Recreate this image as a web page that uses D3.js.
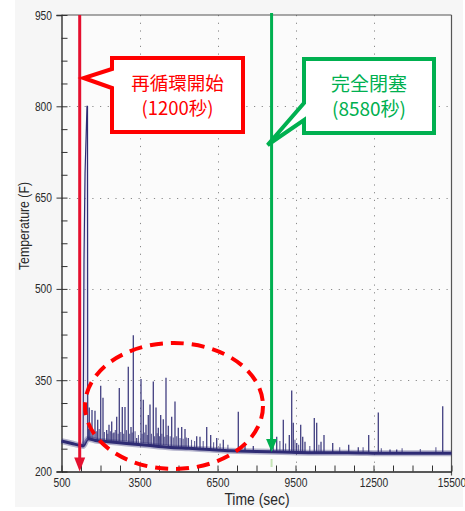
<!DOCTYPE html>
<html>
<head>
<meta charset="utf-8">
<script src="https://cdn.jsdelivr.net/npm/d3@7"></script>
<style>
  html, body { margin: 0; padding: 0; background: #ffffff; }
  svg { display: block; }
</style>
</head>
<body>
<svg id="chart" width="465" height="511"></svg>
<script>
// ---------- data ----------
const xTickValues = [500, 3500, 6500, 9500, 12500, 15500];
const yTickValues = [200, 350, 500, 650, 800, 950];

// smooth baseline of the temperature trace
const baseTimes = [500, 900, 1200, 1330, 1510, 1800, 2300, 3000, 3800, 4600, 5400, 6200, 7000, 8000, 9000, 10000, 11500, 13000, 14500, 15500];
const baseTemps = [250, 246, 243, 242, 254, 251, 249, 246, 243, 240, 238, 236, 234, 233, 232, 231, 231, 230, 230, 230];

// the large excursion right after recirculation start
const bigTimes = [1330, 1365, 1405, 1480, 1500, 1510];
const bigTemps = [242, 548, 690, 800, 800, 254];

// individual temperature spikes (time, peak)
const spikeTimes = [1569, 1673, 1788, 1892, 2008, 2096, 2238, 2327, 2431, 2519, 2623, 2723, 2838, 2942, 3069, 3173, 3262, 3392,
  3558, 3646, 3750, 3838, 3904, 4031, 4135, 4223, 4315, 4415, 4519, 4608, 4738, 4865, 4992, 5123, 5250, 5377, 5700, 5827,
  6085, 6238, 6469, 6723, 7300, 7558, 7877, 8546, 8777, 9031, 9262, 9354, 9415, 9546, 9700, 9777, 9865, 10223, 10315,
  10481, 10596, 10931, 11546, 11915, 12315, 12685, 13135, 13392, 15162];
const spikePeaks = [305, 301, 300, 285, 341, 321, 268, 277, 282, 264, 290, 337, 306, 306, 372, 273, 424, 255,
  352, 318, 277, 293, 310, 348, 305, 272, 293, 286, 354, 275, 290, 315, 272, 273, 270, 255, 258, 257,
  273, 260, 255, 252, 298, 244, 242, 255, 257, 285, 260, 333, 280, 247, 277, 257, 249, 288, 280,
  249, 260, 247, 244, 240, 260, 297, 236, 236, 307];

// small noise bursts near the baseline (time, peak)
const noiseTimes = [1540, 1620, 1720, 1840, 1950, 2150, 2280, 2380, 2480, 2570, 2680, 2780, 2890, 3000, 3120, 3220, 3330, 3460, 3600, 3700, 3800, 3960, 4080, 4180, 4270, 4360, 4470, 4560, 4680, 4800, 4930, 5060, 5180, 5300, 5500, 5620, 5950, 6350, 6600, 6900, 8650, 8900, 9120, 9480, 9620, 10050, 10400, 11200, 12100, 12800, 13600, 14300, 14900];
const noisePeaks = [270, 272, 268, 266, 270, 265, 262, 266, 263, 268, 262, 265, 262, 268, 262, 264, 266, 260, 262, 264, 260, 262, 258, 263, 258, 262, 257, 260, 258, 256, 258, 255, 254, 256, 252, 250, 250, 248, 246, 244, 245, 250, 246, 252, 244, 242, 244, 240, 240, 238, 238, 237, 240];

const recircTime = 1200;
const closeTime = 8580;
const recircLabel = ["再循環開始", "(1200秒)"];
const closeLabel = ["完全閉塞", "(8580秒)"];

// ---------- drawing ----------
const svg = d3.select("#chart");
const navy = "#2e2b74";
const red = "#ff0000";
const arrowRed = "#e5102f";
const green = "#00b050";
const sansFont = "'Liberation Sans', Arial, sans-serif";
const squeeze = 0.82;

svg.append("rect").attr("x", 15).attr("y", 0).attr("width", 448).attr("height", 507).attr("fill", "#f6f6f6");

const x = d3.scaleLinear().domain([500, 15500]).range([61.5, 451.5]);
const y = d3.scaleLinear().domain([200, 950]).range([471.5, 15]);

svg.append("rect").attr("x", x(500)).attr("y", y(950))
  .attr("width", x(15500) - x(500)).attr("height", y(200) - y(950)).attr("fill", "#fbfbfb");

// dotted grid
const grid = svg.append("g").attr("stroke", "#8a8a8a").attr("stroke-width", 1).attr("stroke-dasharray", "1.2,6.5");
grid.selectAll(".gy").data(yTickValues.slice(1, -1)).join("line")
  .attr("x1", x(500)).attr("x2", x(15500)).attr("y1", d => Math.round(y(d)) + 0.5).attr("y2", d => Math.round(y(d)) + 0.5);
grid.selectAll(".gx").data(xTickValues.slice(1, -1)).join("line")
  .attr("y1", y(950)).attr("y2", y(200)).attr("x1", d => Math.round(x(d)) + 0.5).attr("x2", d => Math.round(x(d)) + 0.5);

// frame (top / right)
svg.append("line").attr("x1", x(500)).attr("x2", x(15500)).attr("y1", y(950)).attr("y2", y(950)).attr("stroke", "#555").attr("stroke-width", 1.2);
svg.append("line").attr("x1", x(15500)).attr("x2", x(15500)).attr("y1", y(950)).attr("y2", y(200) + 4).attr("stroke", "#555").attr("stroke-width", 1.2);

// axes
const xMinor = d3.range(500, 15501, 750);
const yMinor = d3.range(200, 951, 37.5);

const yAxis = svg.append("g").attr("transform", `translate(${x(500)},0)`)
  .call(d3.axisLeft(y).tickValues(yTickValues).tickSize(5).tickPadding(2).tickFormat(d3.format("d")));
const yAxisMinor = svg.append("g").attr("transform", `translate(${x(500)},0)`)
  .call(d3.axisRight(y).tickValues(yMinor).tickSize(6).tickFormat(""));
yAxisMinor.select(".domain").remove();

const xAxis = svg.append("g").attr("transform", `translate(0,${y(200)})`)
  .call(d3.axisBottom(x).tickValues(xTickValues).tickSize(0).tickPadding(7).tickFormat(d3.format("d")));
const xAxisMinor = svg.append("g").attr("transform", `translate(0,${y(200)})`)
  .call(d3.axisBottom(x).tickValues(xMinor).tickSizeInner(-6).tickSizeOuter(0).tickFormat(""));
xAxisMinor.select(".domain").remove();

[yAxis, xAxis, yAxisMinor, xAxisMinor].forEach(g => {
  g.selectAll("path.domain").attr("stroke", "#222").attr("stroke-width", 1.3);
  g.selectAll(".tick line").attr("stroke", "#333").attr("stroke-width", 1);
  g.selectAll("text").attr("font-family", sansFont).attr("font-size", 12.5).attr("fill", "#2a2a2a")
    .attr("transform", `scale(${squeeze},1)`);
});
yAxis.selectAll("text").attr("x", -9.5 / squeeze);

// axis titles
svg.append("text").attr("transform", `translate(257,505) scale(${squeeze},1)`)
  .attr("text-anchor", "middle").attr("font-family", sansFont).attr("font-size", 17).attr("fill", "#2a2a2a").text("Time (sec)");
svg.append("text").attr("transform", `translate(29,226) rotate(-90) scale(${squeeze},1)`)
  .attr("text-anchor", "middle").attr("font-family", sansFont).attr("font-size", 15).attr("fill", "#2a2a2a").text("Temperature (F)");

// temperature trace
const baseAt = t => baseTemps[Math.max(0, d3.bisectLeft(baseTimes, t) - 1)];
const toPairs = (ts, vs) => ts.map((t, i) => [t, vs[i]]);

const spikeG = svg.append("g");
spikeG.selectAll("line.noise").data(toPairs(noiseTimes, noisePeaks)).join("line")
  .attr("x1", d => x(d[0])).attr("x2", d => x(d[0]))
  .attr("y1", d => y(baseAt(d[0]))).attr("y2", d => y(d[1]))
  .attr("stroke", navy).attr("stroke-width", 1.1).attr("opacity", 0.75);
spikeG.selectAll("line.spike").data(toPairs(spikeTimes, spikePeaks)).join("line")
  .attr("x1", d => x(d[0])).attr("x2", d => x(d[0]))
  .attr("y1", d => y(baseAt(d[0]))).attr("y2", d => y(d[1]))
  .attr("stroke", navy).attr("stroke-width", 1.3).attr("opacity", 0.9);

const baseLine = d3.line().x(d => x(d[0])).y(d => y(d[1])).curve(d3.curveMonotoneX);
svg.append("path").datum(toPairs(baseTimes, baseTemps))
  .attr("d", baseLine).attr("fill", "none").attr("stroke", navy).attr("stroke-width", 6).attr("opacity", 0.35);
svg.append("path").datum(toPairs(baseTimes, baseTemps))
  .attr("d", baseLine).attr("fill", "none").attr("stroke", navy).attr("stroke-width", 3);

svg.append("path").datum(toPairs(bigTimes, bigTemps))
  .attr("d", d3.line().x(d => x(d[0])).y(d => y(d[1]))).attr("fill", "#c9c6e6").attr("fill-opacity", 0.4)
  .attr("stroke", navy).attr("stroke-width", 1.2);

// dashed ellipse
svg.append("ellipse").attr("cx", 174).attr("cy", 406).attr("rx", 89).attr("ry", 63)
  .attr("fill", "none").attr("stroke", red).attr("stroke-width", 4).attr("stroke-dasharray", "13,8");

// red arrow (recirculation start)
const rx = x(recircTime);
svg.append("line").attr("x1", rx).attr("x2", rx).attr("y1", y(950)).attr("y2", y(200) - 10)
  .attr("stroke", arrowRed).attr("stroke-width", 3);
svg.append("path").attr("d", `M${rx - 5.5},${y(200) - 14} L${rx + 5.5},${y(200) - 14} L${rx},${y(200)} Z`).attr("fill", arrowRed);

// green arrow (full closure)
const gx = x(closeTime);
svg.append("line").attr("x1", gx).attr("x2", gx).attr("y1", 13).attr("y2", 445)
  .attr("stroke", green).attr("stroke-width", 3);
svg.append("path").attr("d", `M${gx - 5.5},439 L${gx + 5.5},439 L${gx},452 Z`).attr("fill", green);
svg.append("line").attr("x1", gx).attr("x2", gx).attr("y1", 459).attr("y2", 467)
  .attr("stroke", "#c6e5b6").attr("stroke-width", 2);

// callouts
svg.append("path")
  .attr("d", `M112,58 H243 V132 H112 V88 L${rx + 4},78 L112,69 Z`)
  .attr("fill", "#ffffff").attr("stroke", red).attr("stroke-width", 4).attr("stroke-linejoin", "miter");
svg.append("g").selectAll("text").data(recircLabel).join("text")
  .attr("x", 177.5).attr("y", (d, i) => 90 + i * 25)
  .attr("text-anchor", "middle").attr("font-family", "'Noto Sans CJK JP', sans-serif")
  .attr("font-size", 18.5).attr("fill", red).text(d => d);

svg.append("path")
  .attr("d", `M304,59 H434 V133 H304 V120 L${gx - 4},145 L304,103 Z`)
  .attr("fill", "#ffffff").attr("stroke", green).attr("stroke-width", 4).attr("stroke-linejoin", "miter");
svg.append("g").selectAll("text").data(closeLabel).join("text")
  .attr("x", 369).attr("y", (d, i) => 91 + i * 25)
  .attr("text-anchor", "middle").attr("font-family", "'Noto Sans CJK JP', sans-serif")
  .attr("font-size", 19).attr("fill", green).text(d => d);
</script>
</body>
</html>
